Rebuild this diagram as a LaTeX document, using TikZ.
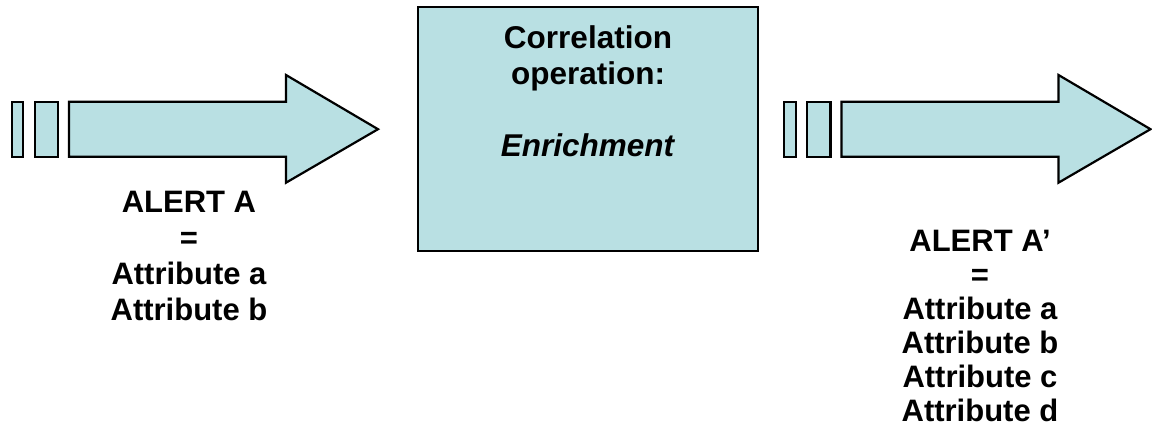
\documentclass[tikz,border=0pt]{standalone}
\usepackage{fontspec}
\setmainfont{Liberation Sans}
\definecolor{paleteal}{RGB}{185,224,227}
\tikzset{
  shapeline/.style={draw=black, line width=2.2pt, fill=paleteal, line join=miter},
  caption/.style={align=center, inner sep=0pt, anchor=north},
  pics/streamarrow/.style={code={
    % two short bars followed by a broad block arrow
    \path[shapeline] (11.7,101.7) rectangle (23.3,156.7);
    \path[shapeline] (34.7,101.7) rectangle (58,156.7);
    \path[shapeline] (69,101.7) -- (286,101.7) -- (286,75) -- (378,129.2)
                     -- (286,182.7) -- (286,156.7) -- (69,156.7) -- cycle;
  }}
}
\begin{document}
\begin{tikzpicture}[x=1pt,y=-1pt]
  \useasboundingbox (0,0) rectangle (1152,438);

  % incoming and outgoing streams
  \pic (inarrow) at (0,0) {streamarrow};
  \pic (outarrow) at (772.5,0) {streamarrow};

  % correlation box
  \node[shapeline, minimum width=339.4pt, minimum height=244pt, inner sep=0pt]
       (op) at (588,128.7) {};
  \node[caption, font=\bfseries\fontsize{31.5}{36}\selectfont] (optext) at (588,25)
       {Correlation\\operation:\\[36pt]\textit{Enrichment}};

  % alert contents
  \node[caption, font=\bfseries\fontsize{31}{36}\selectfont] (alerta) at (189,191)
       {ALERT A\\=\\Attribute a\\Attribute b};
  \node[caption, font=\bfseries\fontsize{31}{34}\selectfont] (alertb) at (980,230)
       {ALERT A’\\=\\Attribute a\\Attribute b\\Attribute c\\Attribute d};
\end{tikzpicture}
\end{document}
